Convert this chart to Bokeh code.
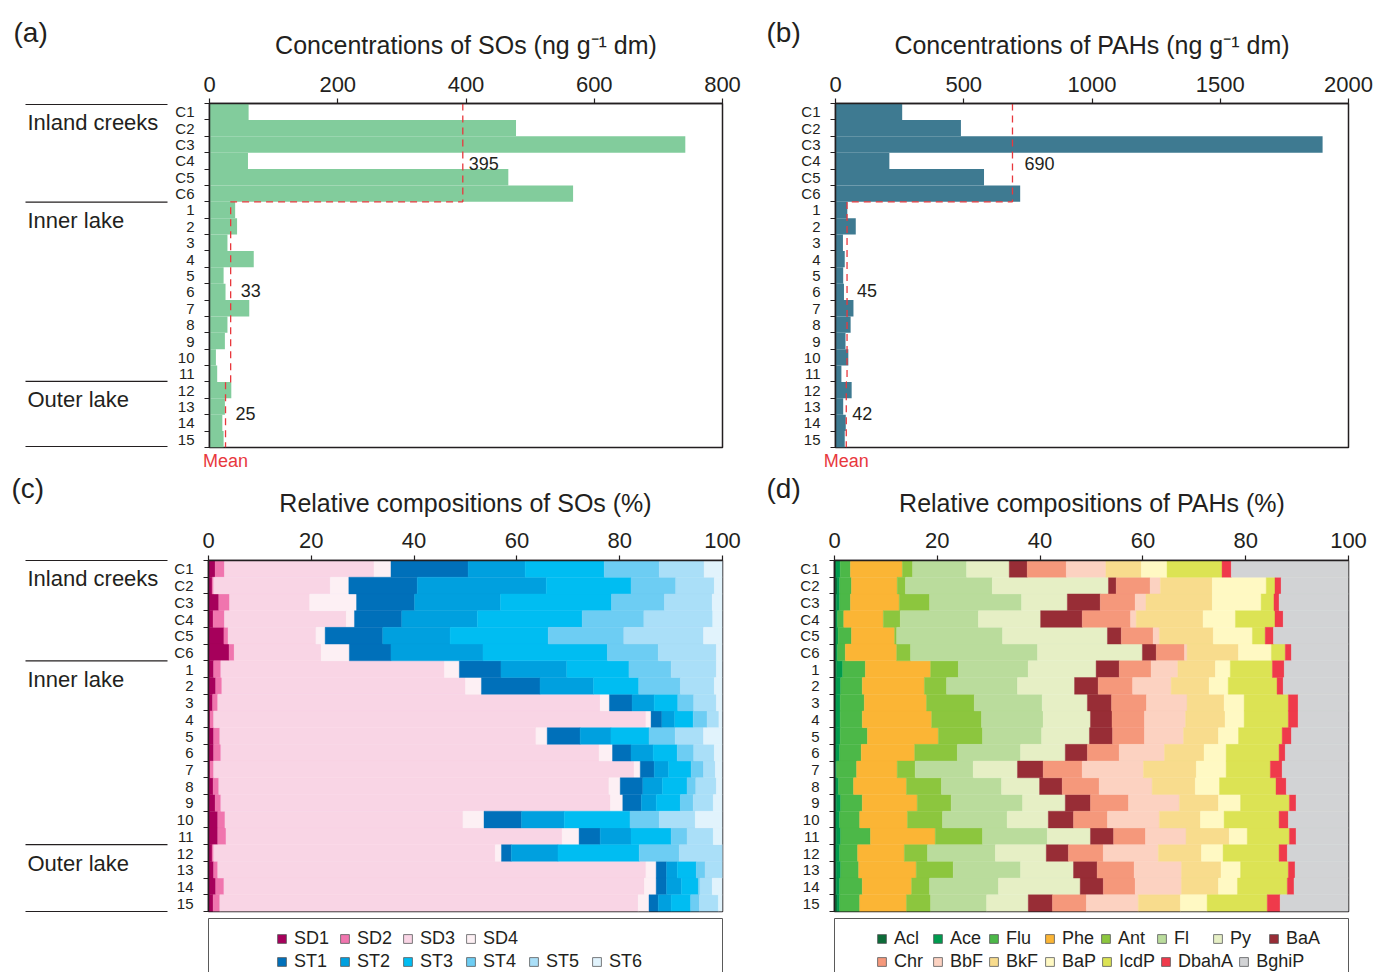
from bokeh.plotting import figure
from bokeh.models import (Range1d, FixedTicker, LinearAxis, Legend, LegendItem,
                          ColumnDataSource)
from bokeh.layouts import row, column
from bokeh.embed import file_html
from bokeh.resources import INLINE
from bokeh.core.properties import value

# ---------------- data ----------------
sites = ["C1", "C2", "C3", "C4", "C5", "C6", "1", "2", "3", "4", "5", "6", "7", "8",
         "9", "10", "11", "12", "13", "14", "15"]
groups = ["Inland creeks", "Inner lake", "Outer lake"]
group_sizes = [6, 11, 4]

so_conc = [61, 478, 742, 60, 466, 567, 40, 43, 28, 69, 22, 25, 62, 28, 24, 10, 12, 34, 24, 20, 22]
pah_conc = [260, 489, 1899, 210, 579, 720, 46, 79, 29, 36, 30, 33, 70, 59, 39, 50, 23, 63, 30, 40, 36]
so_mean = [395, 33, 25]
pah_mean = [690, 45, 42]

so_names = ["SD1", "SD2", "SD3", "SD4", "ST1", "ST2", "ST3", "ST4", "ST5", "ST6"]
so_colors = ["#a6005b", "#f075ae", "#f9d5e5", "#fdf0f4", "#0070ba", "#00a0df",
             "#00bdf2", "#6dcdf3", "#aadff8", "#e1f3fc"]
SD1 = [1.3, 0.7, 2.0, 0.9, 3.0, 4.0, 1.0, 1.4, 0.8, 0.3, 1.0, 1.0, 0.3, 0.9, 1.3, 1.8, 1.8, 0.7, 1.0, 1.4, 0.9]
SD2 = [1.8, 0.3, 2.1, 2.2, 0.8, 1.0, 1.4, 1.2, 1.0, 0.7, 1.2, 1.4, 0.7, 1.1, 1.1, 1.4, 1.6, 0.3, 0.8, 1.6, 1.3]
SD3 = [29.1, 22.7, 15.6, 23.7, 17.1, 16.9, 43.5, 47.4, 74.4, 84.1, 61.5, 73.6, 81.8, 75.9, 75.8, 46.3, 65.4, 54.8, 83.3, 81.8, 81.4]
SD4 = [3.3, 3.6, 9.1, 1.6, 1.8, 5.5, 2.9, 3.1, 1.8, 1.0, 2.2, 2.6, 1.2, 2.2, 2.4, 4.1, 3.3, 1.2, 2.0, 2.3, 2.1]
ST1 = [15.0, 13.3, 11.3, 9.2, 11.2, 8.1, 8.1, 11.4, 4.4, 2.1, 6.4, 3.6, 2.7, 4.4, 3.6, 7.3, 4.1, 1.9, 2.0, 2.0, 1.8]
ST2 = [11.1, 25.1, 16.7, 14.7, 13.1, 17.9, 12.8, 10.4, 4.3, 2.5, 6.0, 4.3, 2.8, 3.8, 2.9, 8.3, 6.0, 9.1, 2.1, 2.9, 2.5]
ST3 = [15.4, 16.5, 21.6, 20.4, 19.1, 24.2, 12.1, 8.8, 4.6, 3.6, 7.4, 4.7, 4.4, 4.8, 4.7, 12.8, 7.8, 15.8, 3.7, 3.3, 3.8]
ST4 = [10.7, 8.7, 10.3, 12.0, 14.7, 9.9, 8.2, 8.1, 3.1, 2.7, 5.1, 3.2, 2.4, 1.7, 2.5, 5.7, 3.1, 7.8, 1.7, 0.3, 1.7]
ST5 = [8.7, 7.5, 9.3, 13.4, 15.5, 11.3, 8.8, 6.6, 4.4, 2.3, 5.5, 4.0, 2.3, 4.0, 3.9, 7.0, 5.1, 8.4, 3.4, 2.4, 3.7]
ST6 = [3.6, 1.6, 2.0, 1.9, 3.7, 1.2, 1.2, 1.6, 1.2, 0.7, 3.7, 1.6, 1.4, 1.2, 1.8, 5.3, 1.8, 0.0, 0.0, 2.0, 0.8]

pah_names = ["Acl", "Ace", "Flu", "Phe", "Ant", "Fl", "Py", "BaA", "Chr", "BbF", "BkF",
             "BaP", "IcdP", "DbahA", "BghiP"]
pah_colors = ["#0c6b38", "#009b4e", "#4cb848", "#fbb535", "#8cc63e", "#badc9c", "#e6efc5",
              "#982d36", "#f5987b", "#fcd2c1", "#f8dc8d", "#fff9c3", "#dce354", "#ef3a4b", "#d2d3d5"]
Acl = [0.3, 0.5, 0.4, 0.3, 0.3, 0.3, 0.4, 0.3, 0.3, 0.3, 0.3, 0.3, 0.2, 0.3, 0.4, 0.3, 0.4, 0.3, 0.4, 0.4, 0.5]
Ace = [0.8, 0.5, 0.6, 0.3, 0.4, 0.3, 1.2, 0.9, 0.8, 0.8, 0.8, 0.7, 0.2, 0.5, 0.8, 0.7, 0.8, 0.7, 0.8, 0.6, 0.5]
Flu = [2.0, 2.3, 2.1, 1.2, 2.6, 1.5, 4.4, 4.2, 4.7, 4.3, 5.3, 4.2, 3.9, 2.9, 4.2, 3.9, 5.8, 3.5, 3.5, 4.4, 3.9]
Phe = [10.1, 8.9, 9.5, 7.7, 8.4, 10.0, 12.7, 12.1, 12.1, 13.5, 13.8, 10.4, 7.9, 10.3, 10.7, 9.3, 12.6, 9.1, 11.2, 9.6, 9.1]
Ant = [2.0, 1.6, 5.9, 3.3, 0.4, 2.7, 5.4, 4.3, 9.3, 9.7, 8.6, 8.3, 3.5, 6.8, 6.6, 6.8, 9.2, 4.5, 7.2, 3.5, 4.7]
Fl = [10.5, 16.9, 17.9, 15.2, 20.6, 24.7, 13.6, 13.8, 13.2, 12.0, 11.5, 12.3, 11.3, 11.7, 13.9, 12.6, 12.6, 13.2, 13.1, 13.4, 10.9]
Py = [8.3, 22.6, 8.9, 12.1, 20.4, 20.4, 13.2, 11.1, 8.8, 9.2, 9.3, 8.7, 8.6, 7.4, 8.3, 8.0, 8.4, 9.9, 10.3, 15.9, 8.1]
BaA = [3.5, 1.5, 6.4, 8.1, 2.7, 2.7, 4.5, 4.6, 4.7, 4.2, 4.5, 4.3, 5.0, 4.4, 4.9, 4.9, 4.5, 4.3, 4.6, 4.5, 4.7]
Chr = [7.6, 6.6, 6.8, 9.4, 6.2, 5.5, 6.2, 6.7, 6.8, 6.3, 6.2, 6.2, 7.6, 7.2, 7.4, 6.6, 6.2, 6.8, 7.2, 6.2, 6.6]
BbF = [7.7, 2.0, 2.1, 1.1, 1.2, 0.5, 5.2, 7.5, 7.9, 8.0, 7.6, 8.8, 11.9, 10.3, 9.9, 10.1, 7.9, 10.7, 9.2, 9.0, 10.1]
BkF = [6.9, 10.1, 12.9, 13.0, 10.5, 10.0, 7.3, 7.4, 7.2, 7.7, 6.8, 7.7, 10.3, 8.4, 7.6, 8.0, 8.4, 8.4, 7.7, 7.2, 8.2]
BaP = [5.0, 10.5, 9.5, 6.3, 7.6, 6.4, 2.9, 3.7, 3.9, 3.7, 3.9, 4.3, 5.8, 4.7, 4.3, 4.6, 3.5, 4.2, 3.8, 3.7, 5.2]
IcdP = [10.7, 1.7, 2.5, 7.7, 2.5, 2.7, 8.2, 9.5, 8.6, 8.6, 8.5, 10.3, 8.6, 11.0, 9.5, 10.7, 8.2, 10.9, 9.3, 9.7, 11.7]
DbahA = [1.8, 1.2, 1.0, 1.6, 1.6, 1.2, 2.3, 1.2, 1.9, 1.9, 1.8, 1.2, 2.3, 2.0, 1.3, 1.8, 1.3, 1.6, 1.3, 1.3, 2.5]
BghiP = [22.8, 13.1, 13.5, 12.7, 14.6, 11.1, 12.5, 12.7, 9.8, 9.8, 11.1, 12.3, 12.9, 12.1, 10.2, 11.7, 10.2, 11.9, 10.4, 10.6, 13.3]

so_comp = dict(zip(so_names, [SD1, SD2, SD3, SD4, ST1, ST2, ST3, ST4, ST5, ST6]))
pah_comp = dict(zip(pah_names, [Acl, Ace, Flu, Phe, Ant, Fl, Py, BaA, Chr, BbF, BkF, BaP,
                                IcdP, DbahA, BghiP]))

panel_letters = ["(a)", "(b)", "(c)", "(d)"]
panel_titles = ["Concentrations of SOs (ng g\u207b\u00b9 dm)",
                "Concentrations of PAHs (ng g\u207b\u00b9 dm)",
                "Relative compositions of SOs (%)",
                "Relative compositions of PAHs (%)"]

# ---------------- styling / layout constants ----------------
FONT = "Liberation Sans"
TXT = "#231f20"
RED = "#e8383d"
W_SIDE, W_LEFT, W_RIGHT = 170, 590, 617

n = len(sites)
centers = [i + 0.5 for i in range(n)]
bounds = list(range(n + 1))
group_bounds = [0]
for s in group_sizes:
    group_bounds.append(group_bounds[-1] + s)


def blank_fig(width, height, x_range, y_range, borders=(0, 0, 0, 0)):
    p = figure(width=width, height=height, x_range=x_range, y_range=y_range,
               x_axis_location=None, y_axis_location=None, output_backend="svg",
               toolbar_location=None, min_border_left=borders[0],
               min_border_right=borders[1], min_border_top=borders[2],
               min_border_bottom=borders[3], outline_line_color=None)
    p.grid.visible = False
    return p


def text_strip(top_px, bottom_px, letters, letter_x, letter_y, titles, title_x, title_y):
    s = blank_fig(W_SIDE + W_LEFT + W_RIGHT, bottom_px - top_px,
                  Range1d(0, W_SIDE + W_LEFT + W_RIGHT), Range1d(bottom_px, top_px))
    s.text(x=letter_x, y=[letter_y] * len(letters), text=letters, text_font=value(FONT),
           text_font_size=value("28px"), text_color=TXT, text_baseline="middle",
           text_align="left")
    s.text(x=title_x, y=[title_y] * len(titles), text=titles, text_font=value(FONT),
           text_font_size=value("25px"), text_color=TXT, text_baseline="middle",
           text_align="center")
    return s


def side_fig(height, frame_top, frame_bottom):
    # frame has the same vertical extent as the neighbouring panel frame;
    # range padded by one pixel so the outer separators are not clipped
    frame_h = height - frame_top - frame_bottom
    e = n / frame_h
    s = blank_fig(W_SIDE, height, Range1d(0, W_SIDE), Range1d(n + e, -e),
                  (0, 0, frame_top - 1, frame_bottom - 1))
    s.segment(x0=25, x1=167, y0=group_bounds, y1=group_bounds, line_color=TXT,
              line_width=1.2)
    s.text(x=27, y=[g + 1.1 for g in group_bounds[:-1]], text=groups,
           text_font=value(FONT), text_font_size=value("22px"), text_color=TXT,
           text_baseline="middle", text_align="left")
    return s


def base_fig(width, height, xmax, xticks, borders, standoff):
    p = figure(width=width, height=height, x_range=Range1d(0, xmax), y_range=Range1d(n, 0),
               x_axis_location="above", y_axis_location="left",
               output_backend="svg", toolbar_location=None,
               min_border_left=borders[0], min_border_right=borders[1],
               min_border_top=borders[2], min_border_bottom=borders[3])
    p.grid.visible = False
    p.outline_line_color = TXT
    p.outline_line_width = 1.5
    xa = p.xaxis[0]
    xa.ticker = FixedTicker(ticks=xticks, minor_ticks=[])
    xa.major_tick_out = 5
    xa.major_tick_in = 0
    xa.minor_tick_out = 0
    xa.minor_tick_in = 0
    xa.major_tick_line_color = TXT
    xa.major_tick_line_width = 1.2
    xa.axis_line_color = TXT
    xa.axis_line_width = 1.5
    xa.major_label_standoff = standoff
    xa.major_label_text_font = FONT
    xa.major_label_text_font_size = "22px"
    xa.major_label_text_color = TXT
    ya = p.yaxis[0]
    ya.ticker = FixedTicker(ticks=centers, minor_ticks=bounds)
    ya.major_label_overrides = {c: s for c, s in zip(centers, sites)}
    ya.major_tick_out = 0
    ya.major_tick_in = 0
    ya.minor_tick_out = 5
    ya.minor_tick_in = 0
    ya.minor_tick_line_color = TXT
    ya.minor_tick_line_width = 1.2
    ya.axis_line_color = TXT
    ya.axis_line_width = 1.5
    ya.major_label_standoff = 10
    ya.major_label_text_font = FONT
    ya.major_label_text_font_size = "15px"
    ya.major_label_text_color = TXT
    return p


def add_means(p, means, offsets):
    xs, ys = [], []
    for m, a, b in zip(means, group_bounds[:-1], group_bounds[1:]):
        xs += [m, m]
        ys += [a, b]
    p.line(xs, ys, line_color=RED, line_dash="7 5", line_width=1.3)
    label_rows = [3.65, 11.4, 18.9]
    src = ColumnDataSource(dict(x=means, y=label_rows, t=[str(m) for m in means], xo=offsets))
    p.text(x="x", y="y", text="t", x_offset="xo", source=src, text_font=value(FONT),
           text_font_size=value("18px"), text_color=TXT, text_baseline="middle",
           text_align="left")
    # "Mean" tag under the frame, pointing at the last mean line
    ma = LinearAxis(ticker=FixedTicker(ticks=[means[-1]], minor_ticks=[]),
                    major_label_overrides={means[-1]: "Mean"}, axis_line_color=None,
                    major_tick_out=0, major_tick_in=0, minor_tick_out=0, minor_tick_in=0,
                    major_label_standoff=3, major_label_text_font=FONT,
                    major_label_text_font_size="18px", major_label_text_color=RED)
    p.add_layout(ma, "below")


def legend_fig(width, height, mbl, mbr, names, colors, rows, x0, label_w, spacing, vys):
    lf = blank_fig(width, height, Range1d(0, 1), Range1d(0, 1), (mbl, mbr, 0, 0))
    for loc in ["left", "right", "above"]:
        ax = LinearAxis(ticker=FixedTicker(ticks=[], minor_ticks=[]), major_tick_out=0,
                        major_tick_in=0, minor_tick_out=0, minor_tick_in=0,
                        major_label_text_font_size="0px", axis_line_color="#5a5a5a",
                        axis_line_width=1)
        lf.add_layout(ax, loc)
    rends = {}
    for nm, c in zip(names, colors):
        # legend proxy, kept outside the visible range
        rends[nm] = lf.quad(left=[-3], right=[-2], top=[-2], bottom=[-3], fill_color=c,
                            line_color="#58595b", line_width=0.8)
    for items, vy in zip(rows, vys):
        lg = Legend(items=[LegendItem(label=nm, renderers=[rends[nm]]) for nm in items],
                    location=(x0, vy), orientation="horizontal", glyph_width=11,
                    glyph_height=11, label_standoff=7, label_width=label_w, label_height=20,
                    spacing=spacing, padding=0, margin=0, border_line_color=None,
                    background_fill_alpha=0, label_text_font=FONT,
                    label_text_font_size="18px", label_text_color=TXT)
        lf.add_layout(lg, "center")
    return lf


# ---------------- top strip: letters + titles ----------------
strip_top = text_strip(0, 62, panel_letters[:2], [13, 766], 32,
                       panel_titles[:2], [465.5, 1091.5], 44)

# ---------------- (a) ----------------
H_TOP = 412
pa = base_fig(W_LEFT, H_TOP, 800, [0, 200, 400, 600, 800], (39, 38, 41, 27), 7)
pa.hbar(y=centers, left=0, right=so_conc, height=1, fill_color="#82cc9c", line_color=None)
add_means(pa, so_mean, [6, 10, 10])
side_a = side_fig(H_TOP, 41, 27)

# ---------------- (b) ----------------
pb = base_fig(W_RIGHT, H_TOP, 2000, [0, 500, 1000, 1500, 2000], (75, 29, 41, 27), 7)
pb.hbar(y=centers, left=0, right=pah_conc, height=1, fill_color="#3e7a91", line_color=None)
add_means(pb, pah_mean, [12, 10, 6])

# ---------------- bottom strip ----------------
strip_bot = text_strip(474, 520, panel_letters[2:], [11, 766], 488,
                       panel_titles[2:], [465, 1091.5], 502)

# ---------------- (c) ----------------
H_C, H_LEG = 398, 54
pc = base_fig(W_LEFT, H_C, 100, [0, 20, 40, 60, 80, 100], (38, 38, 40, 7), 8)
src_c = ColumnDataSource(dict(y=centers, **so_comp))
pc.hbar_stack(so_names, y="y", height=1, color=so_colors, line_width=0.4, source=src_c)
side_c = side_fig(H_C + H_LEG, 40, H_LEG + 7)

# ---------------- (d) ----------------
pd_ = base_fig(W_RIGHT, H_C, 100, [0, 20, 40, 60, 80, 100], (74, 29, 40, 7), 8)
src_d = ColumnDataSource(dict(y=centers, **pah_comp))
pd_.hbar_stack(pah_names, y="y", height=1, color=pah_colors, line_width=0.4, source=src_d)

# ---------------- legends ----------------
lc = legend_fig(W_LEFT, H_LEG, 36, 36, so_names, so_colors, [so_names[:4], so_names[4:]],
                68, 35, 10, (23.5, 0.5))
ld = legend_fig(W_RIGHT, H_LEG, 74, 28, pah_names, pah_colors,
                [pah_names[:8], pah_names[8:]], 42, 33, 5, (23.5, 0.5))

layout = column(strip_top,
                row(side_a, pa, pb),
                strip_bot,
                row(side_c, column(pc, lc), column(pd_, ld)))

open("out.html", "w").write(file_html(layout, INLINE))
